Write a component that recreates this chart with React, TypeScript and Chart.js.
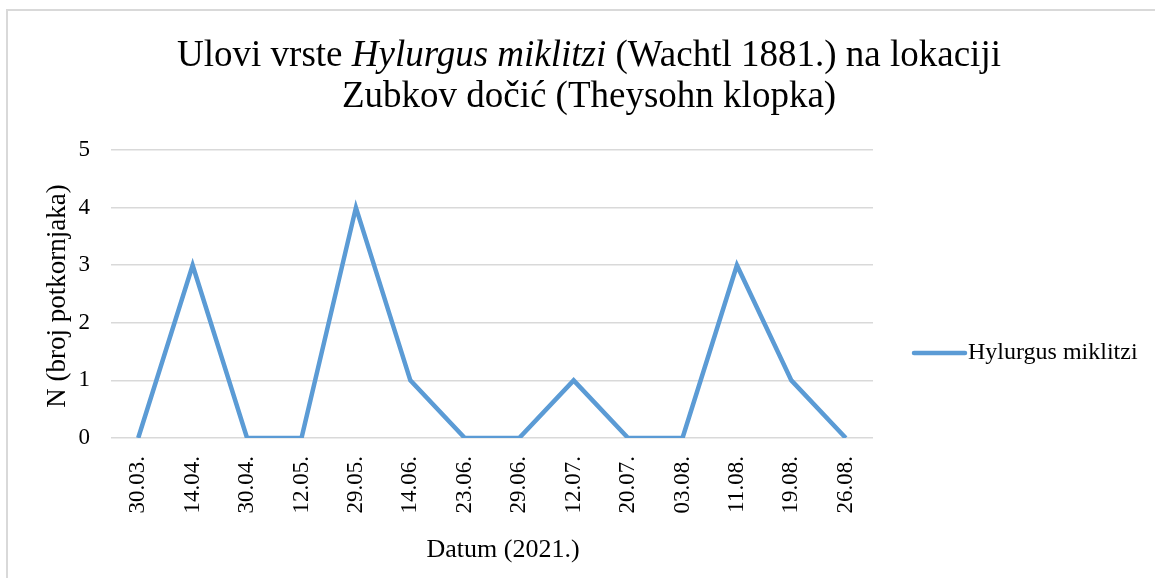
import React, { useEffect, useRef } from "react";
import { Chart, registerables } from "chart.js";

Chart.register(...registerables);

const categories = ["30.03.", "14.04.", "30.04.", "12.05.", "29.05.", "14.06.", "23.06.", "29.06.", "12.07.", "20.07.", "03.08.", "11.08.", "19.08.", "26.08."];
const seriesName = "Hylurgus miklitzi";
const values = [0, 3, 0, 0, 4, 1, 0, 0, 1, 0, 0, 3, 1, 0];
const yTicks = [0, 1, 2, 3, 4, 5];
const titleParts: [string, boolean][] = [["Ulovi vrste ", false], ["Hylurgus miklitzi", true], [" (Wachtl 1881.) na lokaciji", false]];
const titleLine2 = "Zubkov dočić (Theysohn klopka)";
const xTitle = "Datum (2021.)";
const yTitle = "N (broj potkornjaka)";

const FONT = '"Liberation Serif", "Times New Roman", serif';
const LINE_COLOR = "#5b9bd5";
const GRID = "#d9d9d9";

const W = 1155;
const H = 578;

const textPlugin = {
  id: "customText",
  afterDraw(chart: any) {
    const ctx = chart.ctx as CanvasRenderingContext2D;
    const area = chart.chartArea;
    ctx.save();
    ctx.fillStyle = "#000";
    ctx.textBaseline = "alphabetic";
    // Title line 1 (mixed italic)
    const tSize = 37;
    const normal = `${tSize}px ${FONT}`;
    const italic = `italic ${tSize}px ${FONT}`;
    let total = 0;
    const widths = titleParts.map(([t, it]) => {
      ctx.font = it ? italic : normal;
      const w = ctx.measureText(t).width;
      total += w;
      return w;
    });
    const cx = 589;
    let x = cx - total / 2;
    ctx.textAlign = "left";
    titleParts.forEach(([t, it], i) => {
      ctx.font = it ? italic : normal;
      ctx.fillText(t, x, 66);
      x += widths[i];
    });
    ctx.font = normal;
    ctx.textAlign = "center";
    ctx.fillText(titleLine2, cx, 107);

    // X axis title
    ctx.font = `26px ${FONT}`;
    ctx.textAlign = "center";
    ctx.fillText(xTitle, 503, 557);

    // Y axis title
    ctx.save();
    ctx.translate(65, 296);
    ctx.rotate(-Math.PI / 2);
    ctx.textAlign = "center";
    ctx.font = `27px ${FONT}`;
    ctx.fillText(yTitle, 0, 0);
    ctx.restore();

    // Legend
    const ly = 353;
    ctx.strokeStyle = LINE_COLOR;
    ctx.lineWidth = 4.5;
    ctx.lineCap = "round";
    ctx.beginPath();
    ctx.moveTo(914, ly);
    ctx.lineTo(965, ly);
    ctx.stroke();
    ctx.font = `24px ${FONT}`;
    ctx.textAlign = "left";
    ctx.textBaseline = "middle";
    ctx.fillText(chart.data.datasets[0].label, 968, ly);
    ctx.restore();
  },
};

export default function App() {
  const ref = useRef<HTMLCanvasElement>(null);
  useEffect(() => {
    if (!ref.current) return;
    const chart = new Chart(ref.current, {
      type: "line",
      data: {
        labels: categories,
        datasets: [
          {
            label: seriesName,
            data: values,
            borderColor: LINE_COLOR,
            backgroundColor: LINE_COLOR,
            borderWidth: 4.5,
            pointRadius: 0,
            pointHoverRadius: 0,
            tension: 0,
            fill: false,
          },
        ],
      },
      options: {
        responsive: false,
        animation: false,
        layout: { padding: { left: 0, top: 150, right: 282, bottom: 0 } },
        plugins: {
          legend: { display: false },
          title: { display: false },
          tooltip: { enabled: false },
        },
        scales: {
          x: {
            offset: true,
            grid: { display: false, drawTicks: false },
            border: { display: false },
            ticks: {
              color: "#000",
              font: { family: FONT, size: 23 },
              minRotation: 90,
              maxRotation: 90,
              padding: 18,
              autoSkip: false,
            },
            afterFit(scale: any) {
              scale.height = 140;
            },
          },
          y: {
            min: 0,
            max: 5,
            grid: { color: GRID, lineWidth: 1.5, drawTicks: false },
            border: { display: false },
            afterBuildTicks(scale: any) {
              scale.ticks = yTicks.map((v) => ({ value: v }));
            },
            ticks: {
              color: "#000",
              font: { family: FONT, size: 23 },
              padding: 21,
            },
            afterFit(scale: any) {
              scale.width = 111;
            },
          },
        },
      },
      plugins: [textPlugin],
    });
    return () => chart.destroy();
  }, []);

  return (
    <div style={{ position: "fixed", left: 0, top: 0, width: W, height: H, background: "#fff", overflow: "hidden" }}>
      <canvas ref={ref} width={W} height={H} style={{ position: "absolute", left: 0, top: 0, width: W, height: H }} />
      <div style={{ position: "absolute", left: 6, top: 9, width: W + 20, height: H + 20, borderLeft: `2px solid ${GRID}`, borderTop: `2px solid ${GRID}`, pointerEvents: "none" }} />
    </div>
  );
}
